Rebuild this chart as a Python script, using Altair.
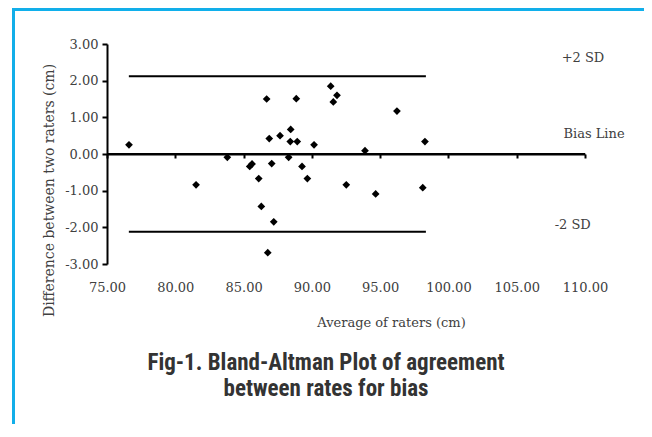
import altair as alt
import pandas as pd

# ---- data ----
avg = [76.61, 81.52, 83.81, 85.45, 85.62, 86.11, 86.30, 86.69, 86.77, 86.88,
       87.06, 87.21, 87.67, 88.30, 88.45, 88.42, 88.86, 88.93, 89.28, 89.67,
       90.16, 91.38, 91.57, 91.84, 92.52, 93.89, 94.67, 96.23, 98.12, 98.28]
diff = [0.25, -0.84, -0.09, -0.34, -0.27, -0.67, -1.43, 1.50, -2.69, 0.42,
        -0.26, -1.85, 0.50, -0.09, 0.67, 0.34, 1.51, 0.34, -0.34, -0.67,
        0.25, 1.85, 1.42, 1.60, -0.84, 0.09, -1.09, 1.17, -0.92, 0.34]

sd_levels = [2.12, -2.12]          # +2 SD, -2 SD
sd_extent = [76.6, 98.35]          # limits lines span the range of averages
bias_level = [0.0]
x_domain = [75, 110]
y_domain = [-3, 3]
x_ticks = [75, 80, 85, 90, 95, 100, 105, 110]
y_ticks = [-3, -2, -1, 0, 1, 2, 3]

ann_text = ["+2 SD", "Bias Line", "-2 SD"]
ann_x = [109.85, 110.66, 109.1]
ann_y = [2.63, 0.55, -1.93]

caption = ["Fig-1. Bland-Altman Plot of agreement", "between rates for bias"]

# ---- tables ----
pts = pd.DataFrame({"avg": avg, "diff": diff})
sd_df = pd.DataFrame({"x1": [sd_extent[0]] * 2, "x2": [sd_extent[1]] * 2, "y": sd_levels})
bias_df = pd.DataFrame({"x1": [x_domain[0]], "x2": [x_domain[1]], "y": bias_level})
ann_df = pd.DataFrame({"t": ann_text, "x": ann_x, "y": ann_y})
cap_df = pd.DataFrame({"t": caption, "line": [0, 1]})

SERIF = "DejaVu Serif"
TXT = "#404040"
CAPFONT = "Roboto Condensed, Roboto, sans-serif"
HYPHEN = "replace(format(datum.value, '.2f'), '\u2212', '-')"

xscale = alt.Scale(domain=x_domain, nice=False, zero=False)
yscale = alt.Scale(domain=y_domain, nice=False, zero=False)

xaxis = alt.Axis(values=x_ticks, labelExpr=HYPHEN, title="Average of raters (cm)",
                 offset=-110, grid=False,
                 domainColor="black", domainWidth=2,
                 tickColor="black", tickWidth=2, tickSize=4,
                 labelPadding=123, labelFlush=False, labelOverlap=False,
                 labelFont=SERIF, labelFontSize=13, labelColor=TXT,
                 titleFont=SERIF, titleFontSize=13, titleFontWeight="normal",
                 titleColor=TXT, titleX=284, titleY=168,
                 titleAlign="center", titleBaseline="middle")
yaxis = alt.Axis(values=y_ticks, labelExpr=HYPHEN,
                 title="Difference between two raters (cm)", grid=False,
                 domainColor="black", domainWidth=2,
                 tickColor="black", tickWidth=2, tickSize=5,
                 labelPadding=4, labelFont=SERIF, labelFontSize=13, labelColor=TXT,
                 titleFont=SERIF, titleFontSize=14, titleFontWeight="normal",
                 titleColor=TXT, titleX=-58, titleY=146,
                 titleAlign="center", titleBaseline="middle", titleAngle=270)

X = lambda f: alt.X(f, type="quantitative", scale=xscale, axis=xaxis)
Y = lambda f: alt.Y(f, type="quantitative", scale=yscale, axis=yaxis)

points = alt.Chart(pts).mark_point(shape="diamond", filled=True, color="black",
                                   size=60, opacity=1).encode(x=X("avg"), y=Y("diff"))

sd_lines = alt.Chart(sd_df).mark_rule(color="black", strokeWidth=2).encode(
    x=X("x1"), x2="x2", y=Y("y"))

bias_line = alt.Chart(bias_df).mark_rule(color="black", strokeWidth=2).encode(
    x=X("x1"), x2="x2", y=Y("y"))

labels = alt.Chart(ann_df).mark_text(font=SERIF, fontSize=13, color=TXT,
                                     align="center", baseline="middle").encode(
    x=X("x"), y=Y("y"), text="t")

# figure caption below the chart
cap1 = alt.Chart(cap_df).transform_filter("datum.line == 0").mark_text(
    font=CAPFONT, fontSize=23, fontWeight="bold", color="#333333",
    align="center", baseline="middle").encode(
    x=alt.value(219), y=alt.value(319), text="t")
cap2 = alt.Chart(cap_df).transform_filter("datum.line == 1").mark_text(
    font=CAPFONT, fontSize=23, fontWeight="bold", color="#333333",
    align="center", baseline="middle").encode(
    x=alt.value(219), y=alt.value(345), text="t")

# decorative cyan frame of the page (top and left edges)
frame_top = alt.Chart(pts).mark_rule(color="#12aee9", strokeWidth=2.5).encode(
    x=alt.value(-94), x2=alt.value(545), y=alt.value(-35))
frame_left = alt.Chart(pts).mark_rule(color="#12aee9", strokeWidth=2.5).encode(
    x=alt.value(-93.5), y=alt.value(-36), y2=alt.value(400))

chart = alt.layer(frame_top, frame_left, bias_line, sd_lines, points, labels,
                  cap1, cap2).properties(
    width=478, height=220,
    autosize="none",
    padding={"left": 99, "top": 36, "right": 59, "bottom": 160},
).configure_view(stroke=None)

chart.save("out.html", embed_options={"renderer": "svg", "actions": False})
